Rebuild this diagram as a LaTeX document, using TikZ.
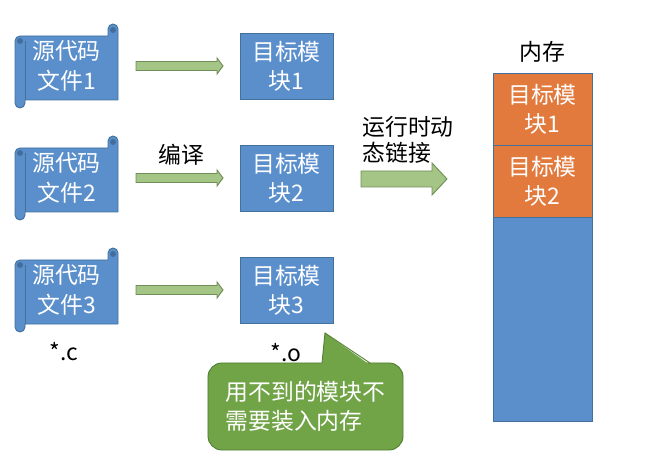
\documentclass[tikz,border=0pt]{standalone}
\usepackage{fontspec}
\setmainfont{Noto Sans CJK SC}
\usetikzlibrary{positioning, calc}
\definecolor{modBlue}{HTML}{5A8FCC}
\definecolor{modLine}{HTML}{41719C}
\definecolor{memOrange}{HTML}{E27A3E}
\definecolor{arrFill}{HTML}{A4C585}
\definecolor{arrLine}{HTML}{708F58}
\definecolor{noteFill}{HTML}{71A347}
\definecolor{noteLine}{HTML}{507E32}
\newcommand{\cnsize}{\fontsize{19.5}{25}\selectfont}
\tikzstyle{txtNode} = [font=\cnsize, align=center, inner sep=0pt, outer sep=0pt]
\tikzstyle{srcNode} = [txtNode, minimum width=3.09cm, minimum height=2.52cm, text=white]
\tikzstyle{objNode} = [txtNode, rectangle, minimum width=2.79cm, minimum height=1.98cm, fill=modBlue, draw=modLine, line width=0.8pt, text=white]
\tikzstyle{memNode} = [objNode, minimum width=2.97cm, minimum height=2.16cm, fill=memOrange]
\tikzstyle{scrollLine} = [fill=modBlue, draw=modLine, line width=0.8pt, line join=round]
\tikzstyle{arrowG} = [fill=arrFill, draw=arrLine, line width=0.8pt, line join=miter]
\tikzstyle{noteNode} = [txtNode, align=left, rectangle, rounded corners=0.42cm, minimum width=5.85cm, minimum height=2.61cm, fill=noteFill, draw=noteLine, line width=0.8pt, text=white]

\newcommand{\gArrow}[5]{% tail, tip, half shaft, half head, head length (px)
  \filldraw[arrowG] ($(#1)+(0,-#3)$) -- ($(#2)+(-#5,-#3)$) -- ($(#2)+(-#5,-#4)$) -- (#2)
    -- ($(#2)+(-#5,#4)$) -- ($(#2)+(-#5,#3)$) -- ($(#1)+(0,#3)$) -- cycle;}

\newcommand{\scrollShape}{%
  \filldraw[scrollLine] (0,17) arc[start angle=180, end angle=270, radius=5] -- (93,12) -- (93,5)
    arc[start angle=180, end angle=360, radius=5] -- (103,76) -- (10,76) -- (10,79)
    arc[start angle=0, end angle=180, radius=5] -- cycle;
  \draw[modLine, line width=0.8pt] (10,17) -- (10,76);
  \filldraw[scrollLine, fill=modBlue!75!black] (5,17) circle (2.5) (98,6) circle (2.5);}

\begin{document}
\begin{tikzpicture}[x=0.03cm, y=-0.03cm, node distance=3.66cm]
  \useasboundingbox (0,0) rectangle (664,452);
  \foreach \i/\y in {1/24, 2/136, 3/248} {
    \begin{scope}[shift={(15,\y)}]
      \scrollShape
    \end{scope}
    \node (src\i) [srcNode] at (66.5,\y+42) {源代码\\文件\i};
    \node (obj\i) [objNode, right=of src\i] {目标模\\块\i};
    \coordinate (tail\i) at ($(src\i.east)+(18,0)$);
    \coordinate (tip\i) at ($(obj\i.west)+(-17,0)$);
    \gArrow{tail\i}{tip\i}{4.5}{8}{6}
  }
  \node (compile) [txtNode] at (181,155) {编译};
  \node (extC) [txtNode] at (64,352) {*.c};
  \node (extO) [txtNode] at (286,353) {*.o};

  \node (memTitle) [txtNode] at (542,52) {内存};
  \node (mem1) [memNode] at (542.5,109) {目标模\\块1};
  \node (mem2) [memNode, below=0pt of mem1] {目标模\\块2};
  \node (memFree) [objNode, minimum width=2.97cm, minimum height=6.12cm, below=0pt of mem2] {};

  \node (link) [txtNode, align=left, font=\fontsize{19.5}{22}\selectfont] at (408,140) {运行时动\\态链接};
  \coordinate (linkTail) at (361,179);
  \coordinate (linkTip) at (447,179);
  \gArrow{linkTail}{linkTip}{8}{16}{15}

  \node (note) [noteNode] at (305.5,406.5) {用不到的模块不\\需要装入内存};
  \coordinate (noteTip) at ($(note.north)+(19.5,-30)$);
  \fill[noteFill] ($(note.north)+(16.5,2)$) -- (noteTip) -- ($(note.north)+(64.5,2)$) -- cycle;
  \draw[noteLine, line width=0.8pt] ($(note.north)+(16.5,0)$) -- (noteTip) -- ($(note.north)+(64.5,0)$);
\end{tikzpicture}
\end{document}
